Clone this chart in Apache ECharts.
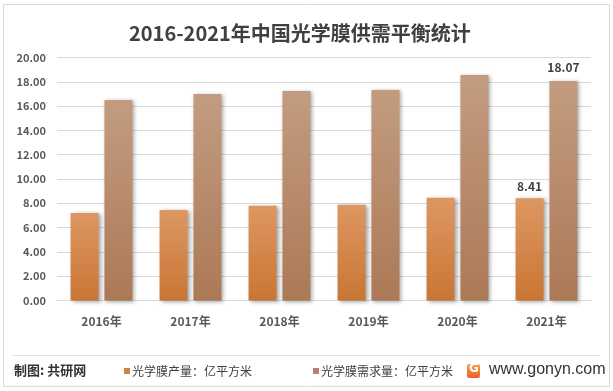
<!DOCTYPE html>
<html>
<head>
<meta charset="utf-8">
<script src="https://cdn.jsdelivr.net/npm/echarts@6/dist/echarts.min.js"></script>
<style>
html,body{margin:0;padding:0;background:#fff;}
#chart{width:613px;height:391px;}
</style>
</head>
<body>
<div id="chart"></div>
<script>
var titleText = '2016-2021年中国光学膜供需平衡统计';
var categories = ['2016年', '2017年', '2018年', '2019年', '2020年', '2021年'];
var seriesNames = ['光学膜产量：亿平方米', '光学膜需求量：亿平方米'];
var production = [7.20, 7.45, 7.80, 7.89, 8.46, 8.41];
var demand = [16.50, 17.00, 17.24, 17.32, 18.56, 18.07];
var labeledIndex = 5;
var yMin = 0, yMax = 20, yInterval = 2;

var font = '"Noto Sans CJK SC", "Noto Sans", sans-serif';
var chart = echarts.init(document.getElementById('chart'), null, {renderer: 'canvas'});

function grad(top, bottom) {
  return new echarts.graphic.LinearGradient(0, 0, 0, 1, [
    {offset: 0, color: top}, {offset: 1, color: bottom}
  ]);
}
function labelFor(data) {
  return data.map(function (v, i) {
    return i === labeledIndex ? {value: v, label: {show: true}} : v;
  });
}

var option = {
  backgroundColor: '#ffffff',
  animation: false,
  title: {
    text: titleText,
    left: 124,
    top: 18,
    textStyle: {fontFamily: font, fontSize: 20, fontWeight: 'bold', color: '#404040'}
  },
  legend: {
    data: [
      {name: seriesNames[0], itemStyle: {color: '#d3823f'}},
      {name: seriesNames[1], itemStyle: {color: '#b5846a'}}
    ],
    left: 119,
    top: 360,
    icon: 'rect',
    itemWidth: 6,
    itemHeight: 6,
    itemGap: 61,
    textStyle: {fontFamily: font, fontSize: 12, color: '#404040', padding: [0, 0, 0, -3]}
  },
  grid: {left: 57, right: 22, top: 57.5, bottom: 90.5},
  xAxis: {
    type: 'category',
    data: categories,
    axisTick: {show: false},
    axisLine: {lineStyle: {color: '#d9d9d9', width: 1}},
    axisLabel: {fontFamily: font, fontSize: 12, fontWeight: 'bold', color: '#595959', margin: 15}
  },
  yAxis: {
    type: 'value',
    min: yMin, max: yMax, interval: yInterval,
    axisLine: {show: false},
    axisTick: {show: false},
    splitLine: {lineStyle: {color: '#d9d9d9', width: 1}},
    axisLabel: {
      fontFamily: font, fontSize: 11, fontWeight: 'bold', color: '#595959', margin: 11,
      formatter: function (v) { return v.toFixed(2); }
    }
  },
  series: [
    {
      name: seriesNames[0],
      type: 'bar',
      data: labelFor(production),
      barWidth: 28,
      barGap: '21%',
      itemStyle: {
        color: grad('#dd9762', '#c97634'),
        shadowColor: 'rgba(0,0,0,0.35)', shadowBlur: 4, shadowOffsetX: 2, shadowOffsetY: 1
      },
      label: {show: false, position: 'top', distance: 6, fontFamily: font, fontSize: 12, fontWeight: 'bold', color: '#404040',
        formatter: function (p) { return p.value.toFixed(2); }}
    },
    {
      name: seriesNames[1],
      type: 'bar',
      data: labelFor(demand),
      barWidth: 28,
      itemStyle: {
        color: grad('#c39c80', '#ac7956'),
        shadowColor: 'rgba(0,0,0,0.35)', shadowBlur: 4, shadowOffsetX: 2, shadowOffsetY: 1
      },
      label: {show: false, position: 'top', distance: 8, fontFamily: font, fontSize: 12, fontWeight: 'bold', color: '#404040',
        formatter: function (p) { return p.value.toFixed(2); }}
    }
  ],
  graphic: [
    {type: 'rect', shape: {x: 3.5, y: 4.5, width: 606, height: 382}, style: {fill: 'none', stroke: '#d9d9d9', lineWidth: 1}, silent: true, z: -1},
    {type: 'line', shape: {x1: 13, y1: 355.5, x2: 600, y2: 355.5}, style: {stroke: '#e3e3e3', lineWidth: 1}, silent: true},
    {type: 'text', left: 14, top: 364, style: {text: '制图: 共研网', fontFamily: font, fontSize: 13, fontWeight: 'bold', fill: '#333333'}},
    {type: 'rect', shape: {x: 467, y: 364, width: 13, height: 14, r: 2},
      style: {fill: new echarts.graphic.LinearGradient(0, 0, 0, 1, [{offset: 0, color: '#f4a04a'}, {offset: 1, color: '#e9632a'}])}},
    {type: 'text', left: 469, top: 363, style: {text: 'G', fontFamily: '"DejaVu Sans", sans-serif', fontSize: 12, fontWeight: 'bold', fill: '#ffffff'}},
    {type: 'text', left: 489, top: 362, style: {text: 'www.gonyn.com', fontFamily: '"Liberation Sans", Arial, sans-serif', fontSize: 16, fill: '#333333'}}
  ]
};
chart.setOption(option);
</script>
</body>
</html>
